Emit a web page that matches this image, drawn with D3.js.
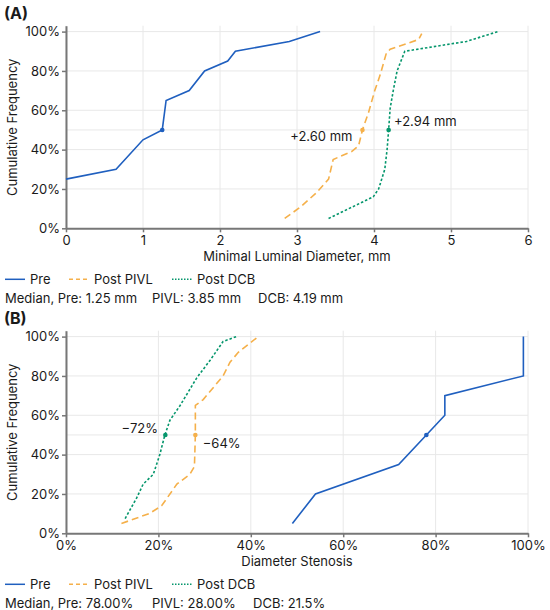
<!DOCTYPE html>
<html>
<head>
<meta charset="utf-8">
<script src="https://cdn.jsdelivr.net/npm/d3@7"></script>
<style>
  body { margin: 0; background: #fff; }
  text { font-family: Inter, "Liberation Sans", sans-serif; fill: #1a1a1a; }
</style>
</head>
<body>
<svg id="chart"></svg>
<script>
const width = 550, height = 610;

// Panel A: minimal luminal diameter (mm) vs cumulative frequency (%)
const mldPreX  = [0, 0.65, 1.0, 1.25, 1.3, 1.6, 1.8, 2.1, 2.2, 2.9, 3.3];
const mldPreY  = [25, 30, 45, 50, 65, 70, 80, 85, 90, 95, 100];
const mldPivlX = [2.84, 3.05, 3.25, 3.41, 3.47, 3.71, 3.8, 3.85, 3.93, 4.01, 4.08, 4.16, 4.21, 4.58, 4.62];
const mldPivlY = [5, 11, 18, 25, 35, 39, 42, 50, 59, 70, 78, 89, 91, 96, 99];
const mldDcbX  = [3.41, 3.99, 4.06, 4.14, 4.17, 4.19, 4.21, 4.25, 4.3, 4.4, 5.2, 5.61];
const mldDcbY  = [5, 16, 20, 30, 40, 50, 61, 70, 80, 90, 95, 100];
const mldMedians = [1.25, 3.85, 4.19];
const mldTicks = [0, 1, 2, 3, 4, 5, 6];

// Panel B: diameter stenosis (%) vs cumulative frequency (%)
const dsPreX  = [49, 54, 72, 78, 82, 82, 99, 99];
const dsPreY  = [5, 20, 35, 50, 60, 70, 80, 100];
const dsPivlX = [12, 18, 20.7, 24, 26.8, 27.8, 28, 28, 29.7, 34, 35.5, 37.3, 41.6];
const dsPivlY = [5, 10, 14, 25, 30, 34, 50, 65, 68, 80, 87, 92, 100];
const dsDcbX  = [12.8, 15.3, 16.7, 18.9, 20.3, 21.4, 22.5, 24.7, 28.3, 31.2, 34, 36.9];
const dsDcbY  = [7.5, 18, 25, 30, 40, 50, 57.5, 65, 79, 88, 97.5, 100];
const dsMedians = [78, 28, 21.5];
const dsTicks = [0, 20, 40, 60, 80, 100];

const yTicks = [0, 20, 40, 60, 80, 100];
const seriesNames = ["Pre", "Post PIVL", "Post DCB"];
const colors = ["#1f5fbf", "#f5b04a", "#05966c"];
const dashes = [null, "7,4", "2.5,2"];

const svg = d3.select("#chart")
    .attr("width", width)
    .attr("height", height);

function drawPanel(p) {
    const x = d3.scaleLinear().domain(p.xDomain).range([66, 528]);
    const y = d3.scaleLinear().domain([0, 103]).range([p.bottom, p.bottom - 202.6]);
    const g = svg.append("g");

    // panel letter
    g.append("text")
        .attr("x", 4).attr("y", p.bottom - 209)
        .style("font-size", "16px").style("font-weight", "bold")
        .text(p.letter);

    // grid
    g.selectAll(".vgrid").data(p.xTicks).join("line")
        .attr("x1", d => x(d)).attr("x2", d => x(d))
        .attr("y1", y(103)).attr("y2", y(0))
        .attr("stroke", "#e8e8e8").attr("stroke-width", 1);
    g.selectAll(".hgrid").data([20, 40, 50, 60, 80, 100]).join("line")
        .attr("x1", x.range()[0]).attr("x2", x.range()[1])
        .attr("y1", d => y(d)).attr("y2", d => y(d))
        .attr("stroke", "#e8e8e8").attr("stroke-width", 1);

    // axes
    const xAxis = g.append("g")
        .attr("transform", `translate(0,${p.bottom})`)
        .call(d3.axisBottom(x).tickValues(p.xTicks).tickFormat(p.xFormat).tickSize(4).tickPadding(3).tickSizeOuter(0));
    const yAxis = g.append("g")
        .attr("transform", "translate(66,0)")
        .call(d3.axisLeft(y).tickValues(yTicks).tickFormat(d => d + "%").tickSize(4).tickPadding(2).tickSizeOuter(0));
    [xAxis, yAxis].forEach(a => {
        a.select(".domain").attr("stroke", "#777").attr("stroke-width", 2);
        a.selectAll(".tick line").attr("stroke", "#777").attr("stroke-width", 1.5);
        a.selectAll(".tick text").style("font-size", "13px").attr("fill", "#1a1a1a")
            .style("font-family", "Inter, 'Liberation Sans', sans-serif");
    });

    // axis titles
    g.append("text")
        .attr("x", 297).attr("y", p.bottom + 33)
        .attr("text-anchor", "middle")
        .style("font-size", "13px")
        .text(p.xTitle);
    g.append("text")
        .attr("transform", `translate(17,${p.bottom - 101}) rotate(-90)`)
        .attr("text-anchor", "middle")
        .style("font-size", "13px")
        .text("Cumulative Frequency");

    // lines
    const line = d3.line().x(d => x(d[0])).y(d => y(d[1]));
    p.series.forEach((s, i) => {
        const pts = s.x.map((v, j) => [v, s.y[j]]);
        g.append("path")
            .datum(pts)
            .attr("fill", "none")
            .attr("stroke", colors[i])
            .attr("stroke-width", 1.6)
            .attr("stroke-dasharray", dashes[i])
            .attr("d", line);
        g.append("circle")
            .attr("cx", x(p.medians[i])).attr("cy", y(50))
            .attr("r", 2.3).attr("fill", colors[i]);
    });

    // annotations
    p.notes.forEach(n => {
        g.append("text")
            .attr("x", x(n.x)).attr("y", y(n.y))
            .attr("text-anchor", n.anchor)
            .attr("dy", "0.35em")
            .style("font-size", "13px")
            .text(n.text);
    });

    // legend
    const ly = p.bottom + 51;
    const lx = [5, 69, 172];
    seriesNames.forEach((name, i) => {
        g.append("line")
            .attr("x1", lx[i]).attr("x2", lx[i] + 20)
            .attr("y1", ly).attr("y2", ly)
            .attr("stroke", colors[i]).attr("stroke-width", 1.5)
            .attr("stroke-dasharray", i === 0 ? null : (i === 1 ? "4,3" : "1.5,1.5"));
        g.append("text")
            .attr("x", lx[i] + 25).attr("y", ly)
            .attr("dy", "0.35em")
            .style("font-size", "13px")
            .text(name);
    });
    const mx = [5, 152, p.dcbX];
    p.medianText.forEach((t, i) => {
        g.append("text")
            .attr("x", mx[i]).attr("y", ly + 19.5)
            .attr("dy", "0.35em")
            .style("font-size", "13px")
            .text(t);
    });
}

drawPanel({
    letter: "(A)",
    bottom: 228.3,
    xDomain: [0, 6],
    xTicks: mldTicks,
    xFormat: d => d,
    xTitle: "Minimal Luminal Diameter, mm",
    series: [{x: mldPreX, y: mldPreY}, {x: mldPivlX, y: mldPivlY}, {x: mldDcbX, y: mldDcbY}],
    medians: mldMedians,
    notes: [
        {x: 3.72, y: 46.5, text: "+2.60 mm", anchor: "end"},
        {x: 4.26, y: 54.5, text: "+2.94 mm", anchor: "start"}
    ],
    medianText: ["Median, Pre: 1.25 mm", "PIVL: 3.85 mm", "DCB: 4.19 mm"],
    dcbX: 258
});

drawPanel({
    letter: "(B)",
    bottom: 533.3,
    xDomain: [0, 100],
    xTicks: dsTicks,
    xFormat: d => d + "%",
    xTitle: "Diameter Stenosis",
    series: [{x: dsPreX, y: dsPreY}, {x: dsPivlX, y: dsPivlY}, {x: dsDcbX, y: dsDcbY}],
    medians: dsMedians,
    notes: [
        {x: 19.9, y: 53.5, text: "\u221272%", anchor: "end"},
        {x: 29.6, y: 45.5, text: "\u221264%", anchor: "start"}
    ],
    medianText: ["Median, Pre: 78.00%", "PIVL: 28.00%", "DCB: 21.5%"],
    dcbX: 253
});
</script>
</body>
</html>
